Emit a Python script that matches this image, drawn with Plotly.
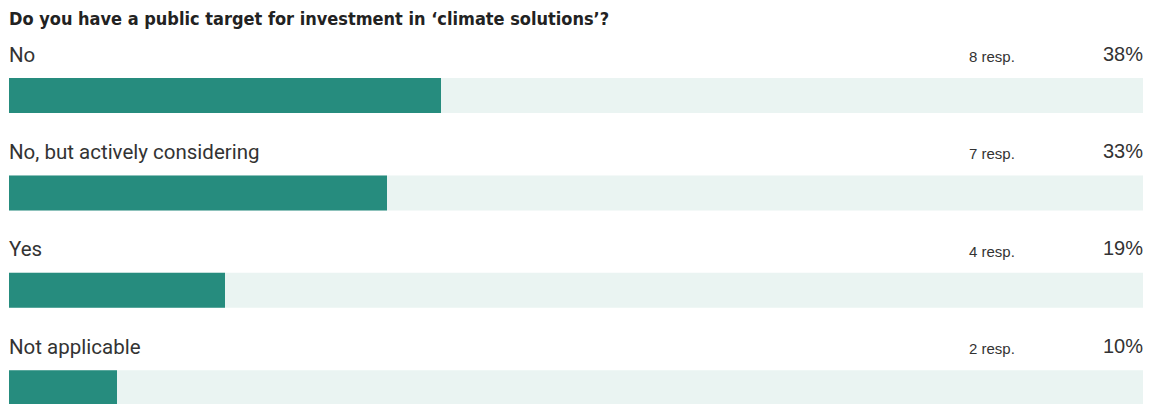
import plotly.graph_objects as go

question = "Do you have a public target for investment in ‘climate solutions’?"
answers = ["No", "No, but actively considering", "Yes", "Not applicable"]
responses = [8, 7, 4, 2]

total = sum(responses)
shares = [r / total for r in responses]

W, H = 1153, 404
ml, mr = 9, 10
row_step = 97.4
first_bar_center = 95.5
bar_thick = 35

centers = [first_bar_center + i * row_step for i in range(len(answers))]

teal = "#268C7E"
track = "#EAF4F2"
text_col = "#333333"

fig = go.Figure()
fig.add_trace(go.Bar(
    x=[1] * len(answers), y=centers, orientation="h", width=bar_thick,
    marker=dict(color=track, line=dict(width=0)), hoverinfo="skip",
))
fig.add_trace(go.Bar(
    x=shares, y=centers, orientation="h", width=bar_thick,
    marker=dict(color=teal, line=dict(width=0)),
    hovertemplate="%{x:.0%}<extra></extra>",
))

annotations = [dict(
    text=f"<b>{question}</b>", x=0, y=18, xref="x", yref="y", xshift=-2,
    xanchor="left", yanchor="middle", showarrow=False,
    font=dict(family="DejaVu Sans Condensed, Liberation Sans Narrow, sans-serif", size=18, color="#222222"),
)]
resp_x = (1015 - ml) / (W - ml - mr)
for c, name, r, s in zip(centers, answers, responses, shares):
    ly = c - 41
    annotations.append(dict(
        text=name, x=0, y=ly, xref="x", yref="y", xshift=-2, xanchor="left", yanchor="middle",
        showarrow=False, font=dict(family="Roboto, sans-serif", size=20.5, color=text_col),
    ))
    annotations.append(dict(
        text=f"{r} resp.", x=resp_x, y=ly + 2, xref="x", yref="y", xshift=2, xanchor="right",
        yanchor="middle", showarrow=False,
        font=dict(family="Liberation Sans, Arial, sans-serif", size=15, color=text_col),
    ))
    annotations.append(dict(
        text=f"{s:.0%}", x=1, y=ly - 1, xref="x", yref="y", xshift=2, xanchor="right",
        yanchor="middle", showarrow=False,
        font=dict(family="Liberation Sans, Arial, sans-serif", size=20, color=text_col),
    ))

fig.update_layout(
    width=W, height=H, barmode="overlay", showlegend=False,
    margin=dict(l=ml, r=mr, t=0, b=0, pad=0),
    paper_bgcolor="white", plot_bgcolor="white",
    xaxis=dict(range=[0, 1], visible=False, fixedrange=True),
    yaxis=dict(range=[H, 0], visible=False, fixedrange=True),
    annotations=annotations,
)

fig.write_html("out.html", config={"displayModeBar": False})
